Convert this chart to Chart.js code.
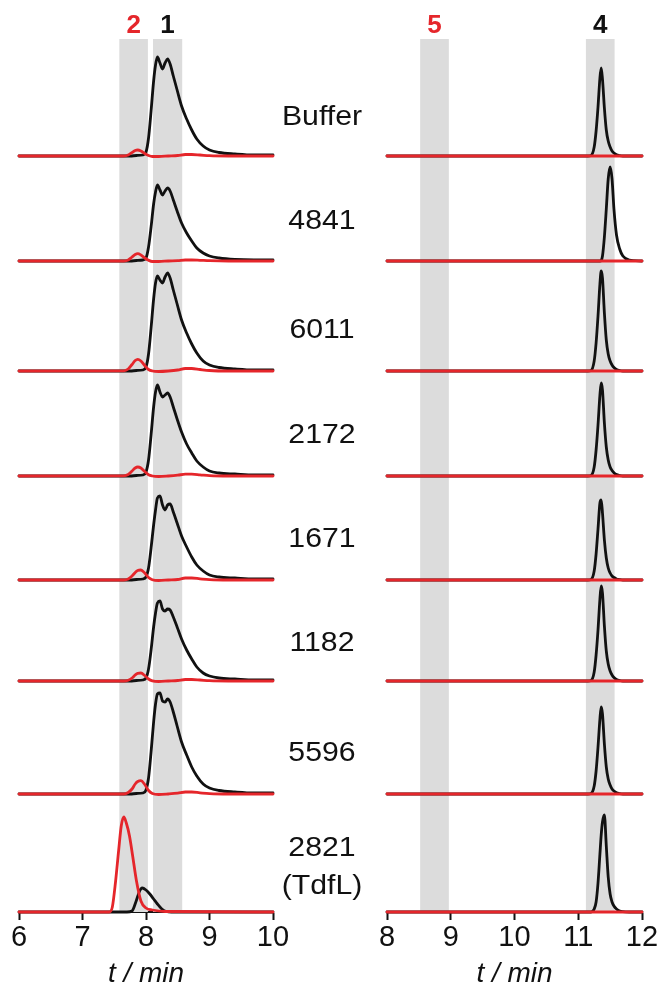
<!DOCTYPE html>
<html>
<head>
<meta charset="utf-8">
<script src="https://cdn.jsdelivr.net/npm/chart.js@4/dist/chart.umd.min.js"></script>
<style>
  html, body { margin: 0; padding: 0; background: #fff; }
  #wrap { position: relative; width: 662px; height: 991px; overflow: hidden; }
  canvas { position: absolute; left: 0; top: 0; }
  .lbl {
    position: absolute; left: 322px;
    font-family: "Liberation Sans", Arial, sans-serif; font-size: 27.5px; color: #111;
    line-height: 38px; text-align: center; white-space: nowrap;
    transform: translate(-50%, -50%) scaleX(1.1);
  }
</style>
</head>
<body>
<div id="wrap">
  <canvas id="left" width="662" height="991"></canvas>
  <canvas id="right" width="662" height="991"></canvas>
</div>
<script>
// samples, top to bottom
const samples = ["Buffer", "4841", "6011", "2172", "1671", "1182", "5596", "2821\n(TdfL)"];
// vertical offset of each trace (stacked chromatograms)
const rowOffsets = [756, 651, 541, 436, 332, 231, 118, 0];

// left panel, black trace (peak 1), shared time grid
const tLeftBlack = [6, 7.75, 7.85, 7.95, 8.0, 8.04, 8.08, 8.12, 8.15, 8.18, 8.22, 8.26, 8.30, 8.34, 8.38, 8.43, 8.49, 8.56, 8.64, 8.72, 8.8, 8.9, 9.0, 9.15, 9.4, 9.7, 10];
const blackBuffer = [0, 0, 0.5, 1, 4, 18, 45, 75, 91, 99, 93, 87, 93, 97, 92, 80, 66, 50, 37, 26, 17, 10, 6, 3.5, 2, 1, 1];
const black4841 = [0, 0, 0.5, 1, 3, 14, 34, 57, 69, 76, 71, 66, 70, 73, 70, 61, 50, 38, 28, 20, 13, 8, 5, 3, 1.5, 1, 1];
const black6011 = [0, 0, 0.5, 1, 4, 17, 43, 72, 88, 95, 91, 88, 94, 98, 93, 81, 67, 51, 38, 27, 18, 10, 6, 3.5, 2, 1, 1];
const black2172 = [0, 0, 0.5, 1, 4, 16, 41, 69, 84, 91, 84, 79, 81, 83, 79, 69, 57, 44, 32, 23, 15, 9, 5, 3, 2, 1, 1];
const black1671 = [0, 0, 0.5, 1, 3, 12, 32, 55, 70, 82, 84, 75, 70, 75, 76, 68, 57, 44, 33, 23, 15, 9, 5, 3, 2, 1, 1];
const black1182 = [0, 0, 0.5, 1, 3, 12, 31, 54, 68, 78, 80, 72, 70, 72, 71, 64, 54, 42, 31, 22, 14, 8, 5, 3, 2, 1, 1];
const black5596 = [0, 0, 0.5, 1, 4, 16, 42, 72, 90, 100, 101, 93, 92, 95, 92, 82, 68, 52, 39, 27, 18, 10, 6, 3.5, 2, 1, 1];

// left panel, red trace (peak 2), shared time grid
const tLeftRed = [6, 7.65, 7.72, 7.78, 7.83, 7.87, 7.92, 7.98, 8.04, 8.1, 8.2, 8.35, 8.5, 8.62, 8.72, 8.85, 9.0, 9.3, 10];
const redBuffer = [0, 0, 1, 3.5, 5.5, 6, 5, 2.5, 0.5, -0.5, -0.5, 0, 0.5, 1.5, 1.5, 1, 0.3, 0, 0];
const red4841 = [0, 0, 1, 4, 6.5, 7.3, 6, 3, 0.7, -0.5, -0.5, 0, 0.3, 1, 1, 0.7, 0.3, 0, 0];
const red6011 = [0, 0.2, 2, 6.5, 10.5, 11.7, 10, 5.5, 1.5, 0, -0.5, 0, 1, 2.5, 2.5, 1.5, 0.5, 0, 0];
const red2172 = [0, 0.2, 1.5, 5, 8, 9, 8, 4.5, 1.2, 0, -0.5, 0, 0.8, 1.8, 1.8, 1.2, 0.4, 0, 0];
const red1671 = [0, 0, 1, 4, 7.5, 9.5, 10, 7, 2.5, 0.3, -0.5, 0, 0.5, 2, 2, 1.2, 0.4, 0, 0];
const red1182 = [0, 0, 0.8, 3, 6, 7.7, 8, 5.5, 2, 0.2, -0.5, 0, 0.5, 1.5, 1.5, 1, 0.3, 0, 0];
const red5596 = [0, 0, 1.5, 5, 10, 12.5, 13.3, 9.5, 3.5, 0.5, -0.5, 0, 0.8, 2, 2, 1.2, 0.4, 0, 0];

// 2821 (TdfL) left panel has its own grids
const tTdfLBlack = [6, 7.5, 7.7, 7.78, 7.84, 7.9, 7.94, 8.0, 8.06, 8.12, 8.18, 8.25, 8.32, 8.4, 10];
const blackTdfL = [0, 0, 0, 1, 10, 21, 24, 22, 18, 13, 8, 3, 0.5, 0, 0];
const tTdfLRed = [6, 7.42, 7.47, 7.52, 7.57, 7.61, 7.65, 7.69, 7.74, 7.79, 7.85, 7.92, 8.0, 8.1, 8.3, 10];
const redTdfL = [0, 0, 5, 30, 62, 86, 95, 89, 76, 56, 31, 11, 4, 2, 0.5, 0];

// right panel, black trace (peak 4)
const tRight = [8, 11.15, 11.2, 11.25, 11.28, 11.31, 11.34, 11.36, 11.38, 11.41, 11.44, 11.47, 11.5, 11.53, 11.56, 11.6, 11.65, 11.7, 11.8, 12];
const rBuffer = [0, 0, 0.5, 9, 25, 49, 78, 88, 77, 48, 26, 15, 9, 5, 3, 1.3, 0.4, 0, 0, 0];
const r4841 = [0, 0, 0, 0, 0, 0, 0, 0.5, 5, 24, 52, 82, 94, 82, 52, 26, 12, 5, 1, 0];
const r6011 = [0, 0, 0.5, 10, 28, 55, 87, 100, 93, 58, 31, 17, 10, 6, 3.5, 1.5, 0.5, 0, 0, 0];
const r2172 = [0, 0, 0.5, 9, 26, 51, 81, 93, 86, 53, 29, 16, 9, 5.5, 3.2, 1.4, 0.5, 0, 0, 0];
const r1671 = [0, 0, 0.5, 9, 26, 51, 77, 80, 67, 40, 22, 12, 7, 4, 2.5, 1, 0.4, 0, 0, 0];
const r1182 = [0, 0, 0.5, 9, 26, 51, 82, 95, 88, 55, 30, 17, 10, 6, 3.5, 1.5, 0.5, 0, 0, 0];
const r5596 = [0, 0, 0.5, 8, 23, 47, 75, 87, 80, 50, 27, 15, 9, 5, 3, 1.3, 0.4, 0, 0, 0];
const rTdfL = [0, 0, 0, 3, 10, 29, 58, 77, 90, 97, 66, 35, 18, 10, 6, 3, 1, 0.3, 0, 0];
// right panel, red trace (peak 5) stays flat
const tRightRed = [8, 12];
const rRed = [0, 0];

// shaded windows and their labels
const leftBands = [[7.58, 8.03], [8.11, 8.57]];
const leftBandLabels = ["2", "1"];
const rightBands = [[8.52, 8.97], [11.12, 11.57]];
const rightBandLabels = ["5", "4"];

const RED = "#e5262b";
const BLACK = "#111111";
const FONT = '"Liberation Sans", Arial, Helvetica, sans-serif';

const leftBlackRows = [blackBuffer, black4841, black6011, black2172, black1671, black1182, black5596, blackTdfL];
const leftBlackTimes = [tLeftBlack, tLeftBlack, tLeftBlack, tLeftBlack, tLeftBlack, tLeftBlack, tLeftBlack, tTdfLBlack];
const leftRedRows = [redBuffer, red4841, red6011, red2172, red1671, red1182, red5596, redTdfL];
const leftRedTimes = [tLeftRed, tLeftRed, tLeftRed, tLeftRed, tLeftRed, tLeftRed, tLeftRed, tTdfLRed];
const rightBlackRows = [rBuffer, r4841, r6011, r2172, r1671, r1182, r5596, rTdfL];

function points(ts, ys, off) {
  return ts.map((t, i) => ({ x: t, y: ys[i] + off }));
}

function trace(data, color, order) {
  return {
    data, borderColor: color, borderWidth: 2.8, pointRadius: 0,
    cubicInterpolationMode: "monotone", fill: false, clip: false, order,
    borderJoinStyle: "round", borderCapStyle: "round"
  };
}

const bandPlugin = {
  id: "bands",
  beforeDatasetsDraw(chart, args, opts) {
    const { ctx, chartArea } = chart;
    const x = chart.scales.x;
    ctx.save();
    opts.bands.forEach(([a, b], i) => {
      const x0 = x.getPixelForValue(a);
      const x1 = x.getPixelForValue(b);
      ctx.fillStyle = "#dcdcdc";
      ctx.fillRect(x0, chartArea.top, x1 - x0, chartArea.bottom - chartArea.top);
      ctx.fillStyle = opts.colors[i];
      ctx.font = "bold 26px " + FONT;
      ctx.textAlign = "center";
      ctx.textBaseline = "middle";
      ctx.fillText(opts.labels[i], (x0 + x1) / 2, chartArea.top - 13);
    });
    ctx.restore();
  }
};

function makeChart(id, xmin, xmax, datasets, padding, bands, labels) {
  return new Chart(document.getElementById(id), {
    type: "line",
    data: { datasets },
    plugins: [bandPlugin],
    options: {
      responsive: false,
      animation: false,
      events: [],
      layout: { padding },
      plugins: {
        legend: { display: false },
        tooltip: { enabled: false },
        bands: { bands, labels, colors: [RED, BLACK] }
      },
      scales: {
        x: {
          type: "linear", min: xmin, max: xmax,
          ticks: { stepSize: 1, color: BLACK, padding: 1, maxRotation: 0, font: { size: 29, family: FONT } },
          grid: { drawOnChartArea: false, drawTicks: true, tickLength: 8, tickWidth: 2, tickColor: BLACK },
          border: { display: true, color: BLACK, width: 2 },
          title: { display: true, text: "t / min", color: BLACK, padding: 0, font: { size: 28, style: "italic", family: FONT } },
          afterFit(scale) { scale.height = 79; }
        },
        y: { display: false, min: 0, max: 873 }
      }
    }
  });
}

const leftSets = [];
const rightSets = [];
samples.forEach((s, r) => {
  const off = rowOffsets[r];
  leftSets.push(trace(points(leftRedTimes[r], leftRedRows[r], off), RED, 0));
  leftSets.push(trace(points(leftBlackTimes[r], leftBlackRows[r], off), BLACK, 1));
  rightSets.push(trace(points(tRightRed, rRed, off), RED, 0));
  rightSets.push(trace(points(tRight, rightBlackRows[r], off), BLACK, 1));
});

makeChart("left", 6, 10, leftSets, { left: 19, right: 389, top: 39, bottom: 0 }, leftBands, leftBandLabels);
makeChart("right", 8, 12, rightSets, { left: 387, right: 20, top: 39, bottom: 0 }, rightBands, rightBandLabels);

// sample names between the panels
const labelY = [116, 220, 329, 434, 538, 642, 752, 866];
const wrap = document.getElementById("wrap");
samples.forEach((s, r) => {
  const d = document.createElement("div");
  d.className = "lbl";
  d.style.top = labelY[r] + "px";
  d.innerHTML = s.split("\n").join("<br>");
  wrap.appendChild(d);
});
</script>
</body>
</html>
